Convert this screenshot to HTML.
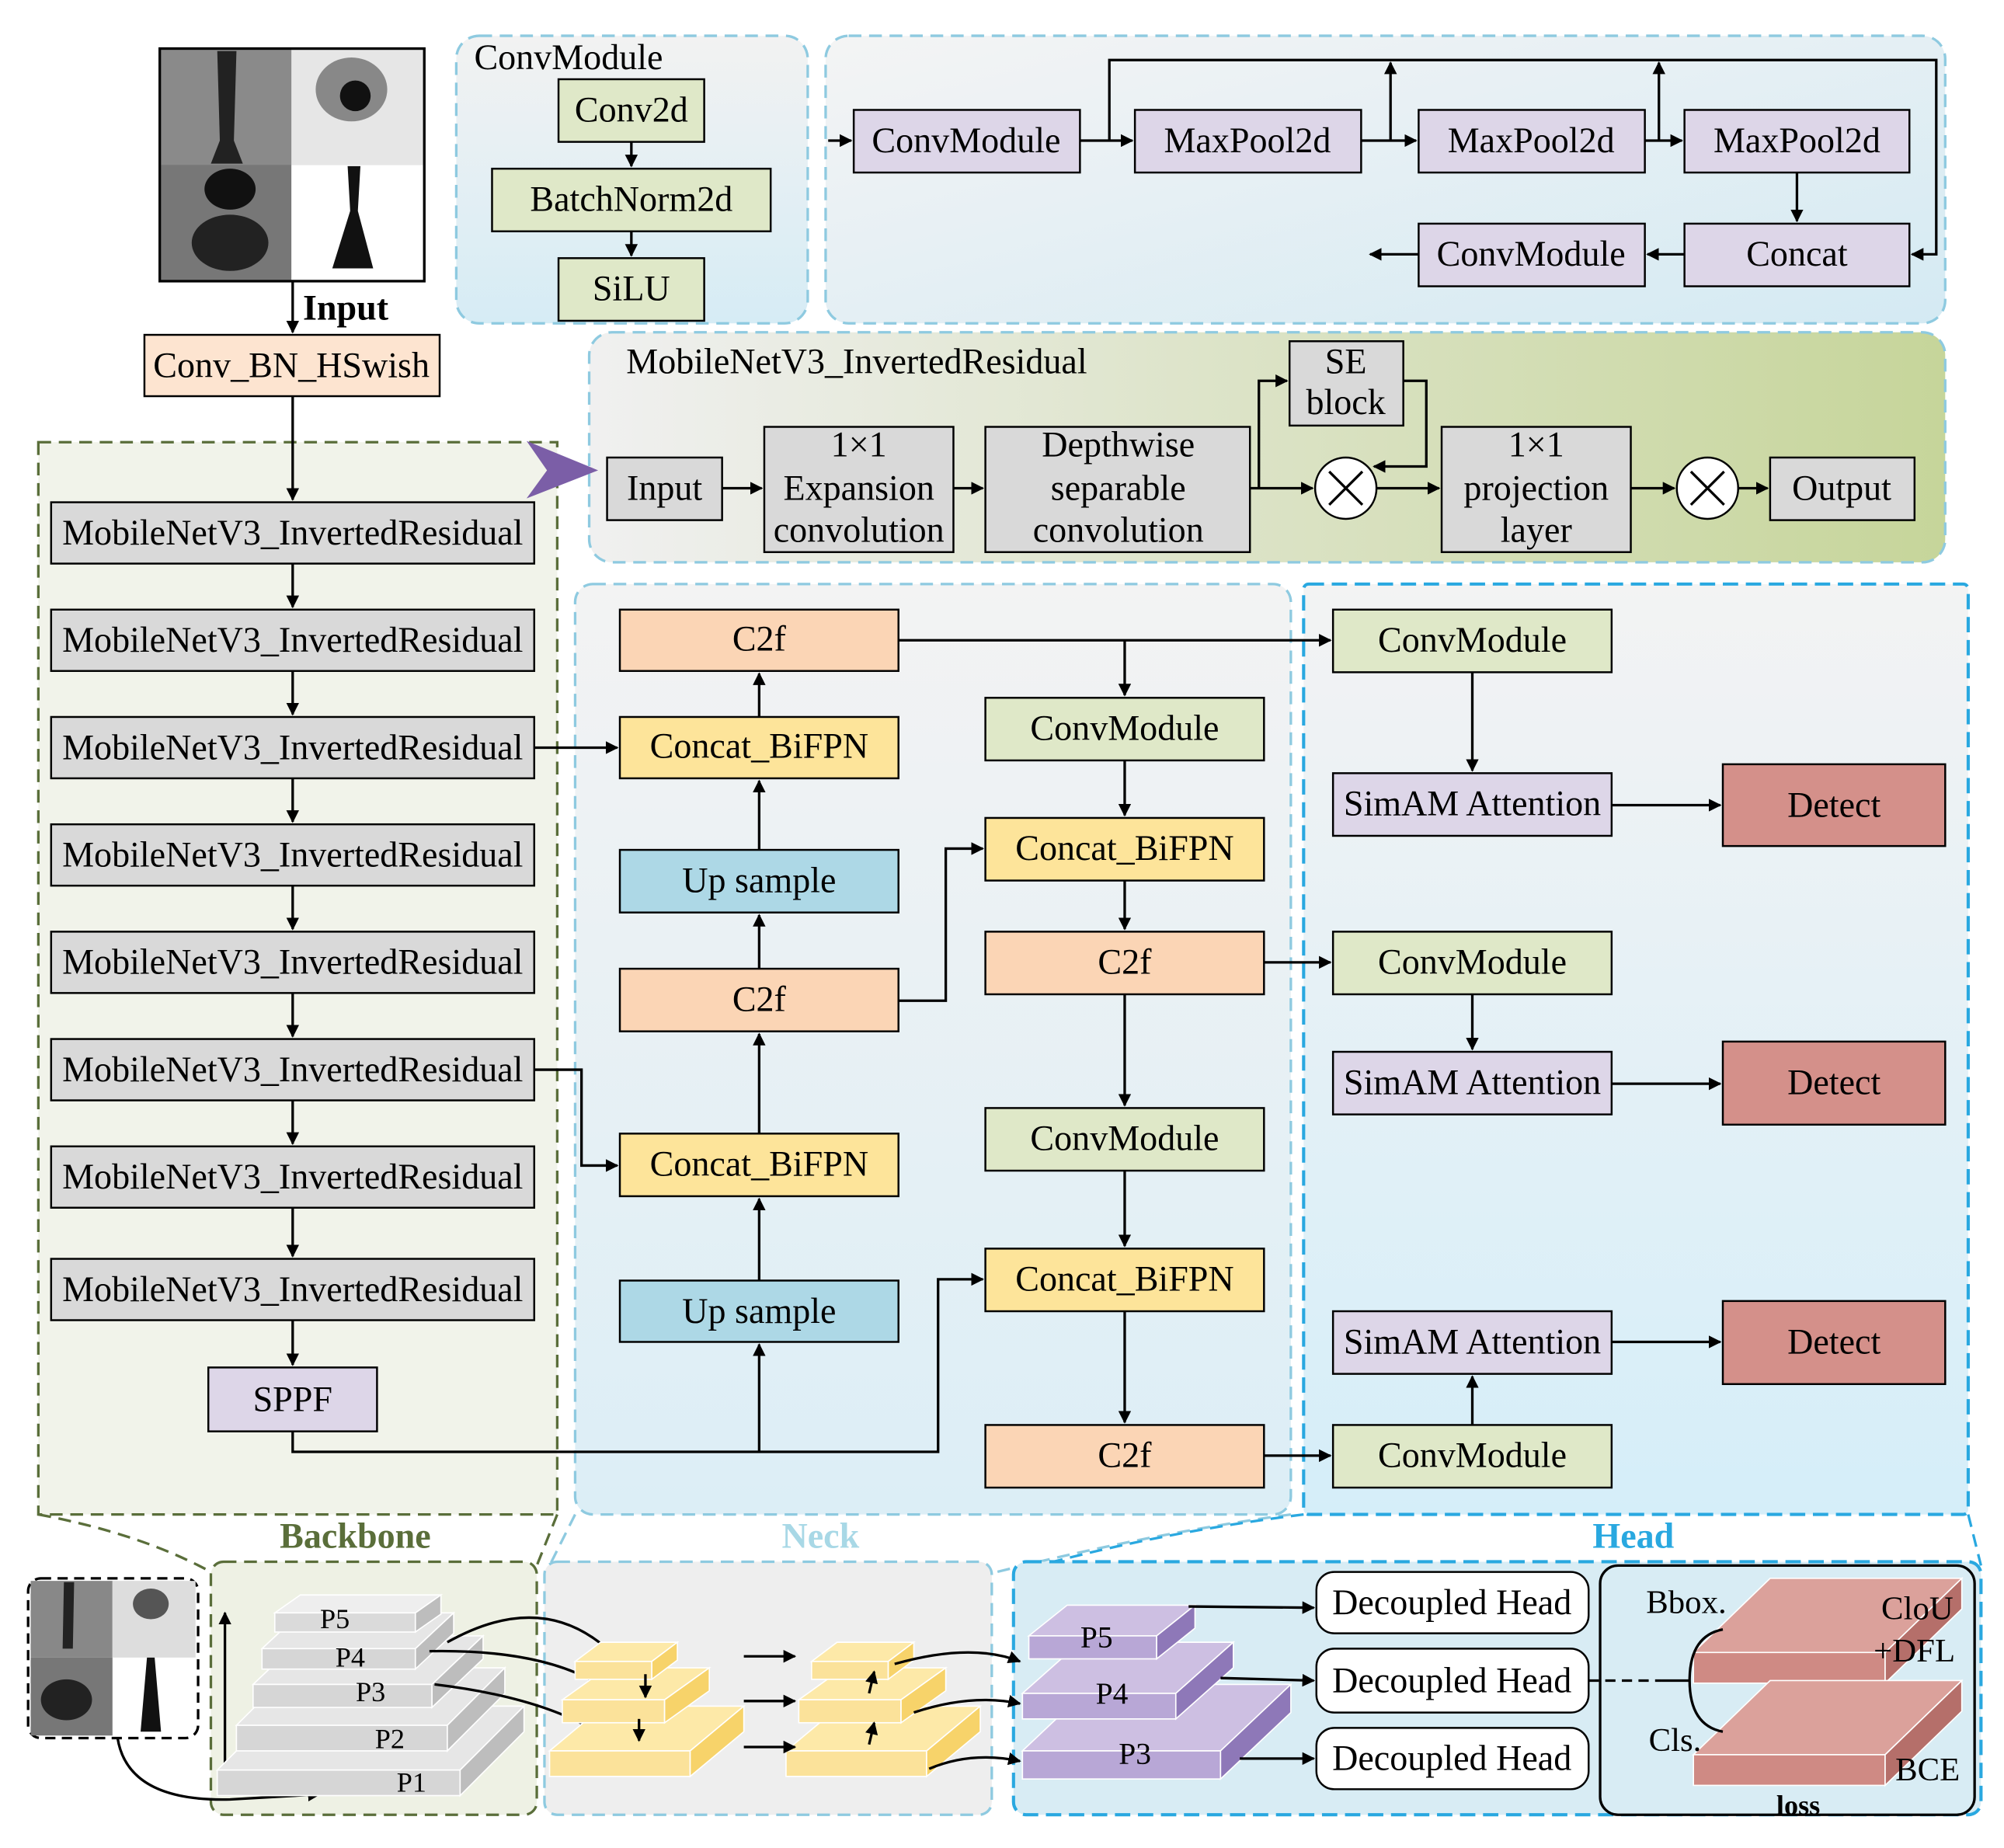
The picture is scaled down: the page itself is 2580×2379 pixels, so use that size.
<!DOCTYPE html>
<html><head><meta charset="utf-8"><style>html,body{margin:0;padding:0;background:#fff}svg{display:block}</style></head><body>
<svg width="2580" height="2379" viewBox="0 0 1568 1446" preserveAspectRatio="none" xmlns="http://www.w3.org/2000/svg" font-family="Liberation Serif, serif" font-size="28">
<defs>
<marker id="a" markerWidth="10" markerHeight="10" refX="9" refY="5" orient="auto" markerUnits="userSpaceOnUse"><path d="M0,0 L10,5 L0,10 z" fill="#000"/></marker>
<linearGradient id="gcm" x1="0" y1="0" x2="0" y2="1"><stop offset="0" stop-color="#f2f2f2"/><stop offset="1" stop-color="#d6ecf5"/></linearGradient>
<linearGradient id="gsp" x1="0" y1="0" x2="1" y2="1"><stop offset="0" stop-color="#f4f4f4"/><stop offset="1" stop-color="#d4eaf3"/></linearGradient>
<linearGradient id="gmb" x1="0" y1="0" x2="1" y2="0"><stop offset="0" stop-color="#f0f0f0"/><stop offset="1" stop-color="#c6d59a"/></linearGradient>
<linearGradient id="gnk" x1="0" y1="0" x2="0" y2="1"><stop offset="0" stop-color="#f3f3f3"/><stop offset="1" stop-color="#dceef6"/></linearGradient>
<linearGradient id="ghd" x1="0" y1="0" x2="0" y2="1"><stop offset="0" stop-color="#f3f3f3"/><stop offset="1" stop-color="#d5eef9"/></linearGradient>
</defs>

<!-- Input image -->
<rect x="125" y="38" width="207" height="182" fill="#999"/>
<rect x="126" y="39" width="102" height="90" fill="#8a8a8a"/>
<rect x="228" y="39" width="103" height="90" fill="#e6e6e6"/>
<rect x="126" y="129" width="102" height="90" fill="#777"/>
<rect x="228" y="129" width="103" height="90" fill="#fff"/>
<path d="M170,40 L185,40 L183,110 L190,128 L165,128 L172,110 z" fill="#222"/>
<ellipse cx="180" cy="148" rx="20" ry="16" fill="#111"/>
<ellipse cx="180" cy="190" rx="30" ry="22" fill="#222"/>
<ellipse cx="275" cy="70" rx="28" ry="25" fill="#888"/>
<ellipse cx="278" cy="75" rx="12" ry="12" fill="#111"/>
<path d="M272,130 L282,130 L280,165 L292,210 L260,210 L274,165 z" fill="#111"/>
<rect x="125" y="38" width="207" height="182" fill="none" stroke="#000" stroke-width="2"/>
<line x1="229" y1="220" x2="229" y2="260" stroke="#000" stroke-width="2" marker-end="url(#a)"/>
<text x="237" y="250" font-weight="bold" font-size="28">Input</text>
<rect x="113" y="262" width="231" height="48" fill="#fde4d0" stroke="#000" stroke-width="1.5"/>
<text x="228" y="295" text-anchor="middle">Conv_BN_HSwish</text>

<!-- Backbone -->
<rect x="30" y="346" width="406" height="839" fill="#f1f3ea" stroke="#5a6e3a" stroke-width="2" stroke-dasharray="10,6"/>
<g stroke="#000" stroke-width="1.5" fill="#d9d9d9">
<rect x="40" y="393" width="378" height="48"/><rect x="40" y="477" width="378" height="48"/><rect x="40" y="561" width="378" height="48"/><rect x="40" y="645" width="378" height="48"/><rect x="40" y="729" width="378" height="48"/><rect x="40" y="813" width="378" height="48"/><rect x="40" y="897" width="378" height="48"/><rect x="40" y="985" width="378" height="48"/>
<rect x="163" y="1070" width="132" height="50" fill="#ddd6e8"/>
</g>
<g text-anchor="middle">
<text x="229" y="426">MobileNetV3_InvertedResidual</text><text x="229" y="510">MobileNetV3_InvertedResidual</text><text x="229" y="594">MobileNetV3_InvertedResidual</text><text x="229" y="678">MobileNetV3_InvertedResidual</text><text x="229" y="762">MobileNetV3_InvertedResidual</text><text x="229" y="846">MobileNetV3_InvertedResidual</text><text x="229" y="930">MobileNetV3_InvertedResidual</text><text x="229" y="1018">MobileNetV3_InvertedResidual</text><text x="229" y="1104">SPPF</text>
</g>
<g stroke="#000" stroke-width="2" fill="none" marker-end="url(#a)">
<line x1="229" y1="310" x2="229" y2="391"/><line x1="229" y1="441" x2="229" y2="475"/><line x1="229" y1="525" x2="229" y2="559"/><line x1="229" y1="609" x2="229" y2="643"/><line x1="229" y1="693" x2="229" y2="727"/><line x1="229" y1="777" x2="229" y2="811"/><line x1="229" y1="861" x2="229" y2="895"/><line x1="229" y1="945" x2="229" y2="983"/><line x1="229" y1="1033" x2="229" y2="1068"/>
</g>

<!-- ConvModule detail -->
<rect x="357" y="28" width="275" height="225" rx="18" fill="url(#gcm)" stroke="#8ecae0" stroke-width="2" stroke-dasharray="10,6"/>
<text x="371" y="54">ConvModule</text>
<g stroke="#000" stroke-width="1.5" fill="#dfe8c8"><rect x="437" y="62" width="114" height="49"/><rect x="385" y="132" width="218" height="49"/><rect x="437" y="202" width="114" height="49"/></g>
<g text-anchor="middle"><text x="494" y="95">Conv2d</text><text x="494" y="165">BatchNorm2d</text><text x="494" y="235">SiLU</text></g>
<g stroke="#000" stroke-width="2" marker-end="url(#a)"><line x1="494" y1="111" x2="494" y2="130"/><line x1="494" y1="181" x2="494" y2="200"/></g>

<!-- SPPF detail -->
<rect x="646" y="28" width="876" height="225" rx="18" fill="url(#gsp)" stroke="#8ecae0" stroke-width="2" stroke-dasharray="10,6"/>
<g stroke="#000" stroke-width="1.5" fill="#ddd6e8">
<rect x="668" y="86" width="177" height="49"/><rect x="888" y="86" width="177" height="49"/><rect x="1110" y="86" width="177" height="49"/><rect x="1318" y="86" width="176" height="49"/><rect x="1318" y="175" width="176" height="49"/><rect x="1110" y="175" width="177" height="49"/>
</g>
<g text-anchor="middle"><text x="756" y="119">ConvModule</text><text x="976" y="119">MaxPool2d</text><text x="1198" y="119">MaxPool2d</text><text x="1406" y="119">MaxPool2d</text><text x="1406" y="208">Concat</text><text x="1198" y="208">ConvModule</text></g>
<g stroke="#000" stroke-width="2" fill="none" marker-end="url(#a)">
<line x1="648" y1="110" x2="666" y2="110"/><line x1="845" y1="110" x2="886" y2="110"/><line x1="1065" y1="110" x2="1108" y2="110"/><line x1="1287" y1="110" x2="1316" y2="110"/>
<polyline points="868,110 868,47 1515,47 1515,199 1496,199"/>
<line x1="1088" y1="110" x2="1088" y2="49"/><line x1="1298" y1="110" x2="1298" y2="49"/>
<line x1="1406" y1="135" x2="1406" y2="173"/><line x1="1318" y1="199" x2="1289" y2="199"/><line x1="1110" y1="199" x2="1072" y2="199"/>
</g>

<!-- MobileNet detail -->
<rect x="461" y="260" width="1061" height="180" rx="18" fill="url(#gmb)" stroke="#8ecae0" stroke-width="2" stroke-dasharray="10,6"/>
<path d="M412,345 L468,368 L412,390 L428,368 z" fill="#7b5ea7"/>
<text x="490" y="292">MobileNetV3_InvertedResidual</text>
<g stroke="#000" stroke-width="1.5" fill="#d9d9d9">
<rect x="475" y="358" width="90" height="49"/><rect x="598" y="334" width="148" height="98"/><rect x="771" y="334" width="207" height="98"/><rect x="1009" y="267" width="89" height="66"/><rect x="1128" y="334" width="148" height="98"/><rect x="1385" y="358" width="113" height="49"/>
</g>
<g fill="#fff" stroke="#000" stroke-width="1.5"><circle cx="1053" cy="382" r="24"/><circle cx="1336" cy="382" r="24"/></g>
<g stroke="#000" stroke-width="2"><path d="M1040,369 L1066,395 M1066,369 L1040,395 M1323,369 L1349,395 M1349,369 L1323,395"/></g>
<g text-anchor="middle">
<text x="520" y="391">Input</text>
<text x="672" y="357">1×1</text><text x="672" y="391">Expansion</text><text x="672" y="424">convolution</text>
<text x="875" y="357">Depthwise</text><text x="875" y="391">separable</text><text x="875" y="424">convolution</text>
<text x="1053" y="292">SE</text><text x="1053" y="324">block</text>
<text x="1202" y="357">1×1</text><text x="1202" y="391">projection</text><text x="1202" y="424">layer</text>
<text x="1441" y="391">Output</text>
</g>
<g stroke="#000" stroke-width="2" fill="none" marker-end="url(#a)">
<line x1="565" y1="382" x2="596" y2="382"/><line x1="746" y1="382" x2="769" y2="382"/><line x1="978" y1="382" x2="1027" y2="382"/>
<polyline points="985,382 985,298 1007,298"/><polyline points="1098,298 1116,298 1116,365 1075,365"/>
<line x1="1077" y1="382" x2="1126" y2="382"/><line x1="1276" y1="382" x2="1310" y2="382"/><line x1="1360" y1="382" x2="1383" y2="382"/>
</g>

<!-- Neck & Head -->
<rect x="450" y="457" width="560" height="728" rx="14" fill="url(#gnk)" stroke="#8ecae0" stroke-width="2" stroke-dasharray="10,6"/>
<rect x="1020" y="457" width="520" height="728" rx="4" fill="url(#ghd)" stroke="#29a8e0" stroke-width="2.5" stroke-dasharray="12,6"/>
<g stroke="#000" stroke-width="1.5">
<rect x="485" y="477" width="218" height="48" fill="#fbd5b5"/><rect x="485" y="561" width="218" height="48" fill="#fde49a"/><rect x="485" y="665" width="218" height="49" fill="#add8e6"/><rect x="485" y="758" width="218" height="49" fill="#fbd5b5"/><rect x="485" y="887" width="218" height="49" fill="#fde49a"/><rect x="485" y="1002" width="218" height="48" fill="#add8e6"/>
<rect x="771" y="546" width="218" height="49" fill="#dfe8c8"/><rect x="771" y="640" width="218" height="49" fill="#fde49a"/><rect x="771" y="729" width="218" height="49" fill="#fbd5b5"/><rect x="771" y="867" width="218" height="49" fill="#dfe8c8"/><rect x="771" y="977" width="218" height="49" fill="#fde49a"/><rect x="771" y="1115" width="218" height="49" fill="#fbd5b5"/>
<rect x="1043" y="477" width="218" height="49" fill="#dfe8c8"/><rect x="1043" y="605" width="218" height="49" fill="#ddd6e8"/><rect x="1348" y="598" width="174" height="64" fill="#d4908a"/>
<rect x="1043" y="729" width="218" height="49" fill="#dfe8c8"/><rect x="1043" y="823" width="218" height="49" fill="#ddd6e8"/><rect x="1348" y="815" width="174" height="65" fill="#d4908a"/>
<rect x="1043" y="1026" width="218" height="49" fill="#ddd6e8"/><rect x="1348" y="1018" width="174" height="65" fill="#d4908a"/><rect x="1043" y="1115" width="218" height="49" fill="#dfe8c8"/>
</g>
<g text-anchor="middle">
<text x="594" y="509">C2f</text><text x="594" y="593">Concat_BiFPN</text><text x="594" y="698">Up sample</text><text x="594" y="791">C2f</text><text x="594" y="920">Concat_BiFPN</text><text x="594" y="1035">Up sample</text>
<text x="880" y="579">ConvModule</text><text x="880" y="673">Concat_BiFPN</text><text x="880" y="762">C2f</text><text x="880" y="900">ConvModule</text><text x="880" y="1010">Concat_BiFPN</text><text x="880" y="1148">C2f</text>
<text x="1152" y="510">ConvModule</text><text x="1152" y="638">SimAM Attention</text><text x="1435" y="639">Detect</text>
<text x="1152" y="762">ConvModule</text><text x="1152" y="856">SimAM Attention</text><text x="1435" y="856">Detect</text>
<text x="1152" y="1059">SimAM Attention</text><text x="1435" y="1059">Detect</text><text x="1152" y="1148">ConvModule</text>
</g>
<g stroke="#000" stroke-width="2" fill="none" marker-end="url(#a)">
<line x1="418" y1="585" x2="483" y2="585"/><polyline points="418,837 455,837 455,912 483,912"/>
<polyline points="229,1120 229,1136 734,1136 734,1001 769,1001"/><line x1="594" y1="1136" x2="594" y2="1052"/>
<line x1="594" y1="1002" x2="594" y2="938"/><line x1="594" y1="887" x2="594" y2="809"/><line x1="594" y1="758" x2="594" y2="716"/><line x1="594" y1="665" x2="594" y2="611"/><line x1="594" y1="561" x2="594" y2="527"/>
<polyline points="703,783 740,783 740,664 769,664"/>
<line x1="703" y1="501" x2="1041" y2="501"/><line x1="880" y1="501" x2="880" y2="544"/>
<line x1="880" y1="595" x2="880" y2="638"/><line x1="880" y1="689" x2="880" y2="727"/><line x1="880" y1="778" x2="880" y2="865"/><line x1="880" y1="916" x2="880" y2="975"/><line x1="880" y1="1026" x2="880" y2="1113"/>
<line x1="989" y1="753" x2="1041" y2="753"/><line x1="989" y1="1139" x2="1041" y2="1139"/>
<line x1="1152" y1="526" x2="1152" y2="603"/><line x1="1261" y1="630" x2="1346" y2="630"/>
<line x1="1152" y1="778" x2="1152" y2="821"/><line x1="1261" y1="848" x2="1346" y2="848"/>
<line x1="1152" y1="1115" x2="1152" y2="1077"/><line x1="1261" y1="1050" x2="1346" y2="1050"/>
</g>

<!-- section labels -->
<g font-weight="bold" font-size="28" text-anchor="middle">
<text x="278" y="1211" fill="#5a6e3a">Backbone</text><text x="642" y="1211" fill="#a8d8e6">Neck</text><text x="1278" y="1211" fill="#29a8e0">Head</text>
</g>
<g fill="none" stroke-width="2" stroke-dasharray="10,6">
<path d="M30,1185 Q110,1200 165,1230" stroke="#5a6e3a"/><path d="M436,1185 L420,1225" stroke="#5a6e3a"/>
<path d="M450,1185 L430,1225" stroke="#8ecae0"/><path d="M1010,1185 Q900,1200 780,1230" stroke="#8ecae0"/>
<path d="M1020,1185 Q900,1200 795,1230" stroke="#29a8e0"/><path d="M1540,1185 L1550,1225" stroke="#29a8e0"/>
</g>

<!-- bottom panels -->
<rect x="165" y="1222" width="255" height="198" rx="10" fill="#eef1e4" stroke="#5a6e3a" stroke-width="2" stroke-dasharray="10,6"/>
<rect x="426" y="1222" width="350" height="198" rx="10" fill="#eeeeee" stroke="#8ecae0" stroke-width="2" stroke-dasharray="10,6"/>
<rect x="793" y="1222" width="757" height="198" rx="10" fill="#d8ecf4" stroke="#29a8e0" stroke-width="2.5" stroke-dasharray="12,6"/>
<rect x="1252" y="1225" width="293" height="195" rx="14" fill="#d8ecf4" stroke="#000" stroke-width="2"/>
<!-- small image -->
<rect x="22" y="1235" width="133" height="125" rx="10" fill="#fff" stroke="#000" stroke-width="2" stroke-dasharray="8,5"/>
<rect x="24" y="1237" width="64" height="60" fill="#888"/><rect x="88" y="1237" width="65" height="60" fill="#ddd"/>
<rect x="24" y="1297" width="64" height="61" fill="#777"/>
<path d="M50,1238 L58,1238 L57,1290 L49,1290 z" fill="#222"/><ellipse cx="52" cy="1330" rx="20" ry="16" fill="#222"/>
<ellipse cx="118" cy="1255" rx="14" ry="12" fill="#555"/><path d="M115,1297 L121,1297 L126,1355 L110,1355 z" fill="#111"/>
<path d="M92,1360 Q100,1410 180,1408 L250,1404" fill="none" stroke="#000" stroke-width="2" marker-end="url(#a)"/>
<line x1="176" y1="1390" x2="176" y2="1262" stroke="#000" stroke-width="2" marker-end="url(#a)"/>

<!-- backbone slabs -->
<g stroke="#fff" stroke-width="1">
<g><polygon points="170,1385 360,1385 410,1335 220,1335" fill="#e6e6e6"/><rect x="170" y="1385" width="190" height="20" fill="#d6d6d6"/><polygon points="360,1385 410,1335 410,1355 360,1405" fill="#bdbdbd"/></g>
<g><polygon points="185,1350 350,1350 395,1305 230,1305" fill="#e6e6e6"/><rect x="185" y="1350" width="165" height="20" fill="#d6d6d6"/><polygon points="350,1350 395,1305 395,1325 350,1370" fill="#bdbdbd"/></g>
<g><polygon points="198,1318 338,1318 378,1280 238,1280" fill="#e6e6e6"/><rect x="198" y="1318" width="140" height="18" fill="#d6d6d6"/><polygon points="338,1318 378,1280 378,1298 338,1336" fill="#bdbdbd"/></g>
<g><polygon points="205,1290 325,1290 355,1262 235,1262" fill="#e6e6e6"/><rect x="205" y="1290" width="120" height="16" fill="#d6d6d6"/><polygon points="325,1290 355,1262 355,1278 325,1306" fill="#bdbdbd"/></g>
<g><polygon points="215,1262 325,1262 345,1248 235,1248" fill="#eeeeee"/><rect x="215" y="1262" width="110" height="15" fill="#dadada"/><polygon points="325,1262 345,1248 345,1263 325,1277" fill="#bdbdbd"/></g>
</g>
<g font-size="22" text-anchor="middle"><text x="262" y="1274">P5</text><text x="274" y="1304">P4</text><text x="290" y="1331">P3</text><text x="305" y="1368">P2</text><text x="322" y="1402">P1</text></g>
<g stroke="#000" stroke-width="2" fill="none" marker-end="url(#a)">
<path d="M350,1285 Q430,1240 485,1300"/><path d="M336,1292 Q440,1290 485,1330"/><path d="M340,1318 Q440,1330 485,1368"/>
</g>

<!-- neck slabs -->
<g stroke="#fff" stroke-width="1">
<g><polygon points="430,1370 540,1370 582,1335 472,1335" fill="#fde9a8"/><rect x="430" y="1370" width="110" height="20" fill="#fbe29a"/><polygon points="540,1370 582,1335 582,1355 540,1390" fill="#f7d36a"/></g>
<g><polygon points="440,1330 520,1330 555,1305 475,1305" fill="#fde9a8"/><rect x="440" y="1330" width="80" height="18" fill="#fbe29a"/><polygon points="520,1330 555,1305 555,1323 520,1348" fill="#f7d36a"/></g>
<g><polygon points="450,1300 510,1300 530,1285 470,1285" fill="#fde9a8"/><rect x="450" y="1300" width="60" height="14" fill="#fbe29a"/><polygon points="510,1300 530,1285 530,1299 510,1314" fill="#f7d36a"/></g>
<g><polygon points="615,1370 725,1370 767,1335 657,1335" fill="#fde9a8"/><rect x="615" y="1370" width="110" height="20" fill="#fbe29a"/><polygon points="725,1370 767,1335 767,1355 725,1390" fill="#f7d36a"/></g>
<g><polygon points="625,1330 705,1330 740,1305 660,1305" fill="#fde9a8"/><rect x="625" y="1330" width="80" height="18" fill="#fbe29a"/><polygon points="705,1330 740,1305 740,1323 705,1348" fill="#f7d36a"/></g>
<g><polygon points="635,1300 695,1300 715,1285 655,1285" fill="#fde9a8"/><rect x="635" y="1300" width="60" height="14" fill="#fbe29a"/><polygon points="695,1300 715,1285 715,1299 695,1314" fill="#f7d36a"/></g>
</g>
<g stroke="#000" stroke-width="2" fill="none" marker-end="url(#a)">
<line x1="505" y1="1310" x2="505" y2="1328"/><line x1="500" y1="1345" x2="500" y2="1362"/>
<line x1="680" y1="1325" x2="684" y2="1308"/><line x1="680" y1="1365" x2="684" y2="1348"/>
<line x1="582" y1="1296" x2="622" y2="1296"/><line x1="582" y1="1331" x2="622" y2="1331"/><line x1="582" y1="1367" x2="622" y2="1367"/>
<path d="M700,1302 Q760,1285 798,1300"/><path d="M715,1340 Q760,1325 798,1333"/><path d="M727,1384 Q760,1370 798,1378"/>
</g>

<!-- head slabs -->
<g stroke="#fff" stroke-width="1">
<g><polygon points="800,1370 955,1370 1010,1318 855,1318" fill="#cdbfe2"/><rect x="800" y="1370" width="155" height="22" fill="#b8a7d6"/><polygon points="955,1370 1010,1318 1010,1340 955,1392" fill="#8e78b8"/></g>
<g><polygon points="800,1325 920,1325 965,1285 845,1285" fill="#cdbfe2"/><rect x="800" y="1325" width="120" height="20" fill="#b8a7d6"/><polygon points="920,1325 965,1285 965,1305 920,1345" fill="#8e78b8"/></g>
<g><polygon points="805,1280 905,1280 935,1256 835,1256" fill="#cdbfe2"/><rect x="805" y="1280" width="100" height="18" fill="#b8a7d6"/><polygon points="905,1280 935,1256 935,1274 905,1298" fill="#8e78b8"/></g>
</g>
<g font-size="24" text-anchor="middle"><text x="858" y="1289">P5</text><text x="870" y="1333">P4</text><text x="888" y="1380">P3</text></g>
<g stroke="#000" stroke-width="2" fill="none" marker-end="url(#a)">
<line x1="930" y1="1257" x2="1028" y2="1258"/><line x1="955" y1="1313" x2="1028" y2="1315"/><line x1="970" y1="1376" x2="1028" y2="1376"/>
</g>
<g stroke="#000" stroke-width="1.5" fill="#fff">
<rect x="1030" y="1230" width="213" height="48" rx="14"/><rect x="1030" y="1290" width="213" height="50" rx="14"/><rect x="1030" y="1352" width="213" height="48" rx="14"/>
</g>
<g text-anchor="middle"><text x="1136" y="1263">Decoupled Head</text><text x="1136" y="1324">Decoupled Head</text><text x="1136" y="1385">Decoupled Head</text></g>
<line x1="1243" y1="1315" x2="1300" y2="1315" stroke="#000" stroke-width="2" stroke-dasharray="8,5"/>
<!-- loss slabs -->
<g stroke="#fff" stroke-width="1">
<g><polygon points="1325,1293 1475,1293 1535,1235 1385,1235" fill="#dba19b"/><rect x="1325" y="1293" width="150" height="24" fill="#cf8a84"/><polygon points="1475,1293 1535,1235 1535,1259 1475,1317" fill="#b56f6a"/></g>
<g><polygon points="1325,1373 1475,1373 1535,1315 1385,1315" fill="#dba19b"/><rect x="1325" y="1373" width="150" height="24" fill="#cf8a84"/><polygon points="1475,1373 1535,1315 1535,1339 1475,1397" fill="#b56f6a"/></g>
</g>
<path d="M1300,1315 L1322,1315 M1348,1275 Q1322,1280 1322,1315 Q1322,1350 1348,1355" fill="none" stroke="#000" stroke-width="2"/>
<text x="1288" y="1262" font-size="26">Bbox.</text><text x="1290" y="1370" font-size="26">Cls.</text>
<text x="1472" y="1267" font-size="26">CloU</text><text x="1466" y="1300" font-size="26">+DFL</text><text x="1483" y="1393" font-size="26">BCE</text>
<text x="1407" y="1420" font-weight="bold" font-size="22" text-anchor="middle">loss</text>
</svg>
</body></html>
